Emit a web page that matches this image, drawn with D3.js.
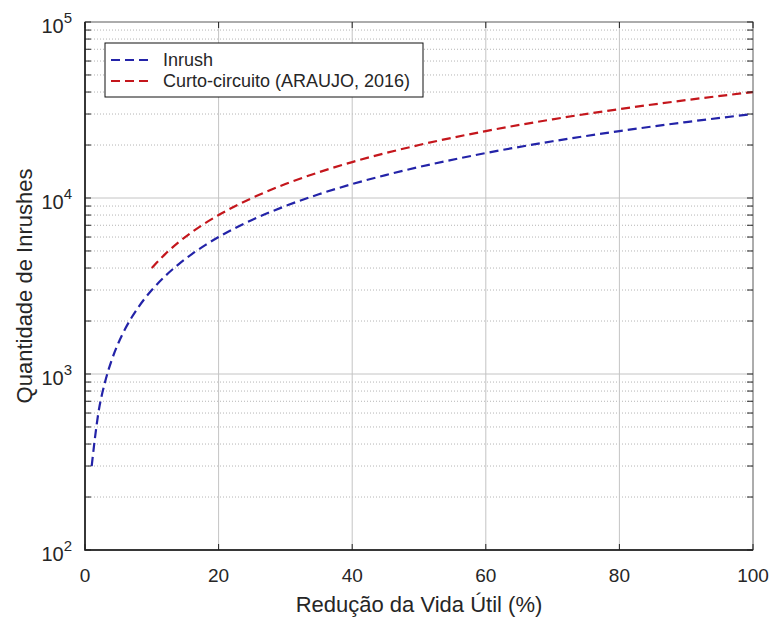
<!DOCTYPE html>
<html>
<head>
<meta charset="utf-8">
<script src="https://cdn.jsdelivr.net/npm/d3@7"></script>
<style>
  body { margin: 0; background: #fff; }
  svg { display: block; font-family: "Liberation Sans", Arial, sans-serif; }
</style>
</head>
<body>
<svg id="chart" width="773" height="617"></svg>
<script>
// Reduction of useful life (%) and number of inrushes
const inrushReduction = [1, 2, 3, 4, 5, 6, 7, 8, 9, 10, 12, 14, 16, 18, 20, 25, 30, 35, 40, 45, 50, 60, 70, 80, 90, 100];
const inrushCount = [300, 600, 900, 1200, 1500, 1800, 2100, 2400, 2700, 3000, 3600, 4200, 4800, 5400, 6000, 7500, 9000, 10500, 12000, 13500, 15000, 18000, 21000, 24000, 27000, 30000];
const shortReduction = [10, 12, 14, 16, 18, 20, 25, 30, 35, 40, 45, 50, 60, 70, 80, 90, 100];
const shortCount = [4000, 4800, 5600, 6400, 7200, 8000, 10000, 12000, 14000, 16000, 18000, 20000, 24000, 28000, 32000, 36000, 40000];
const xTicks = [0, 20, 40, 60, 80, 100];
const yDecades = [2, 3, 4, 5];
const seriesNames = ["Inrush", "Curto-circuito (ARAUJO, 2016)"];
const seriesColors = ["#2323a8", "#c4161c"];

const svg = d3.select("#chart");
const margin = { left: 85, right: 20, top: 22, bottom: 67 };
const width = 773, height = 617;
const plotW = width - margin.left - margin.right;
const plotH = height - margin.top - margin.bottom;

const x = d3.scaleLinear().domain([0, 100]).range([margin.left, margin.left + plotW]);
const y = d3.scaleLog().domain([100, 100000]).range([margin.top + plotH, margin.top]);

const g = svg.append("g");

// minor grid (dotted) for y
const minor = [];
for (let e = 2; e < 5; e++) {
    for (let m = 2; m <= 9; m++) minor.push(m * Math.pow(10, e));
}
g.append("g").selectAll("line")
    .data(minor)
    .join("line")
    .attr("x1", x(0)).attr("x2", x(100))
    .attr("y1", d => y(d)).attr("y2", d => y(d))
    .attr("stroke", "#b4b4b4")
    .attr("stroke-width", 1)
    .attr("stroke-dasharray", "1,2");

// major grid
g.append("g").selectAll("line")
    .data(yDecades.slice(1, -1))
    .join("line")
    .attr("x1", x(0)).attr("x2", x(100))
    .attr("y1", d => y(Math.pow(10, d))).attr("y2", d => y(Math.pow(10, d)))
    .attr("stroke", "#c4c4c4");
g.append("g").selectAll("line")
    .data(xTicks.slice(1, -1))
    .join("line")
    .attr("x1", d => x(d)).attr("x2", d => x(d))
    .attr("y1", y(100)).attr("y2", y(100000))
    .attr("stroke", "#c4c4c4");

// curves
const line = d3.line().x(d => x(d[0])).y(d => y(d[1])).curve(d3.curveMonotoneX);
const series = [
    d3.zip(inrushReduction, inrushCount),
    d3.zip(shortReduction, shortCount)
];
g.append("g").selectAll("path")
    .data(series)
    .join("path")
    .attr("d", line)
    .attr("fill", "none")
    .attr("stroke", (d, i) => seriesColors[i])
    .attr("stroke-width", 2.2)
    .attr("stroke-dasharray", "9,5");

// frame
const frame = g.append("g").attr("fill", "none");
frame.append("rect")
    .attr("x", x(0)).attr("y", y(100000))
    .attr("width", x(100) - x(0)).attr("height", y(100) - y(100000))
    .attr("stroke", "#5a5a5a");
frame.append("path")
    .attr("d", `M${x(0)},${y(100000)}V${y(100)}H${x(100)}`)
    .attr("stroke", "#111")
    .attr("stroke-width", 1.5);

// ticks inward
const tickLen = 6;
const allY = minor.concat(yDecades.map(e => Math.pow(10, e)));
frame.append("g").selectAll("path")
    .data(allY)
    .join("path")
    .attr("d", d => `M${x(0)},${y(d)}h${tickLen}M${x(100)},${y(d)}h${-tickLen}`)
    .attr("stroke", "#222");
frame.append("g").selectAll("path")
    .data(xTicks)
    .join("path")
    .attr("d", d => `M${x(d)},${y(100)}v${-tickLen}M${x(d)},${y(100000)}v${tickLen}`)
    .attr("stroke", "#222");

// x tick labels
g.append("g").selectAll("text")
    .data(xTicks)
    .join("text")
    .attr("x", d => x(d))
    .attr("y", y(100) + 32)
    .attr("text-anchor", "middle")
    .attr("font-size", 19)
    .attr("fill", "#262626")
    .text(d => d);

// y tick labels with superscript
const yl = g.append("g").selectAll("text")
    .data(yDecades)
    .join("text")
    .attr("x", x(0) - 13)
    .attr("y", d => y(Math.pow(10, d)) + 11)
    .attr("text-anchor", "end")
    .attr("font-size", 20)
    .attr("fill", "#262626");
yl.append("tspan").text("10");
yl.append("tspan")
    .attr("font-size", 15)
    .attr("dy", -10)
    .text(d => d);

// axis labels
svg.append("text")
    .attr("x", (x(0) + x(100)) / 2)
    .attr("y", 612)
    .attr("text-anchor", "middle")
    .attr("font-size", 22)
    .attr("fill", "#262626")
    .text("Redução da Vida Útil (%)");
svg.append("text")
    .attr("transform", `translate(32,${(y(100) + y(100000)) / 2}) rotate(-90)`)
    .attr("text-anchor", "middle")
    .attr("font-size", 22)
    .attr("fill", "#262626")
    .text("Quantidade de Inrushes");

// legend
const legend = svg.append("g").attr("transform", "translate(105,43)");
legend.append("rect")
    .attr("width", 318).attr("height", 54)
    .attr("fill", "#fff")
    .attr("stroke", "#111");
const item = legend.selectAll("g")
    .data(seriesNames)
    .join("g")
    .attr("transform", (d, i) => `translate(0,${17 + i * 21})`);
item.append("line")
    .attr("x1", 6).attr("x2", 48)
    .attr("stroke", (d, i) => seriesColors[i])
    .attr("stroke-width", 2.2)
    .attr("stroke-dasharray", "9,5");
item.append("text")
    .attr("x", 58)
    .attr("y", 6)
    .attr("font-size", 18)
    .attr("fill", "#262626")
    .text(d => d);
</script>
</body>
</html>
